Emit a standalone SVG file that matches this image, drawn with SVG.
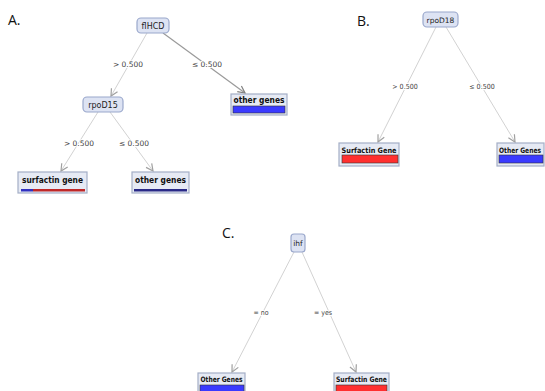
<svg xmlns="http://www.w3.org/2000/svg" width="545" height="391" viewBox="0 0 545 391">
<defs>
<marker id="arr" markerUnits="userSpaceOnUse" markerWidth="10" markerHeight="10" refX="8" refY="4" orient="auto" viewBox="0 0 10 8">
<path d="M1,0.5 L8,4 L1,7.5" fill="none" stroke="#a0a0a0" stroke-width="1.2"/>
</marker>
<marker id="arrD" markerUnits="userSpaceOnUse" markerWidth="10" markerHeight="10" refX="8" refY="4" orient="auto" viewBox="0 0 10 8">
<path d="M1,0.5 L8,4 L1,7.5" fill="none" stroke="#808080" stroke-width="1.2"/>
</marker>
</defs>
<style>
.panel{font-family:"Open Sans","Liberation Sans",sans-serif;font-size:14px;fill:#111}
.inner{fill:#dde3f3;stroke:#9aa8cc;stroke-width:1.2}
.leaf{fill:#e6eaf4;stroke:#a4aec6;stroke-width:1.2}
.nt{font-family:"DejaVu Sans",sans-serif;font-size:8px;fill:#222;text-anchor:middle}
.lt{font-family:"DejaVu Sans",sans-serif;font-size:8px;font-weight:bold;fill:#111;text-anchor:middle}
.ltc{font-family:"DejaVu Sans Condensed","DejaVu Sans",sans-serif;font-size:7.5px;font-weight:bold;fill:#111;text-anchor:middle}
.el{font-family:"DejaVu Sans",sans-serif;font-size:7.5px;fill:#444;text-anchor:middle;stroke:#fff;stroke-width:2;paint-order:stroke}
.elc{font-family:"DejaVu Sans Condensed","DejaVu Sans",sans-serif;font-size:7px;fill:#444;text-anchor:middle;stroke:#fff;stroke-width:2;paint-order:stroke}
.e{stroke:#d2d2d2;stroke-width:1;fill:none;marker-end:url(#arr)}
.ed{stroke:#9a9a9a;stroke-width:1.2;fill:none;marker-end:url(#arrD)}
.blue{fill:#3a3aff;stroke:#333;stroke-width:0.6}
.red{fill:#ff2f2f;stroke:#333;stroke-width:0.6}
</style>
<rect width="545" height="391" fill="#ffffff"/>
<text class="panel" x="8" y="25">A.</text>
<text class="panel" x="357" y="26">B.</text>
<text class="panel" x="222" y="238">C.</text>
<g id="connectors">
<line class="e" x1="147" y1="33" x2="111" y2="96"/>
<line class="ed" x1="163" y1="33" x2="245" y2="93"/>
<line class="e" x1="98" y1="112" x2="61" y2="171"/>
<line class="e" x1="110" y1="112" x2="153" y2="171"/>
<line class="e" x1="436" y1="27" x2="378" y2="142"/>
<line class="e" x1="446" y1="27" x2="515" y2="142"/>
<line class="e" x1="294" y1="252" x2="232" y2="372"/>
<line class="e" x1="302" y1="252" x2="356" y2="372"/>
<text class="el" x="128" y="67">&gt; 0.500</text>
<text class="el" x="207" y="67">≤ 0.500</text>
<text class="el" x="79" y="146">&gt; 0.500</text>
<text class="el" x="134" y="146">≤ 0.500</text>
<text class="elc" x="405" y="89">&gt; 0.500</text>
<text class="elc" x="482" y="89">≤ 0.500</text>
<text class="elc" x="261" y="315">= no</text>
<text class="elc" x="323" y="315">= yes</text>
</g>
<g id="flHCD">
<rect class="inner" x="137" y="18" width="32" height="15" rx="4"/>
<text class="nt" x="153" y="28.5">flHCD</text>
</g>
<g id="rpoD15">
<rect class="inner" x="83" y="97" width="40" height="15" rx="4"/>
<text class="nt" x="103" y="107.5">rpoD15</text>
</g>
<g id="otherGenesA1">
<rect class="leaf" x="231" y="94" width="56" height="21"/>
<text class="lt" x="259" y="103" textLength="51" lengthAdjust="spacingAndGlyphs">other genes</text>
<rect class="blue" x="233" y="106" width="52" height="7"/>
</g>
<g id="surfactinGeneA">
<rect class="leaf" x="18" y="172" width="69" height="21"/>
<text class="lt" x="52.5" y="183" textLength="61" lengthAdjust="spacingAndGlyphs">surfactin gene</text>
<rect x="21" y="189" width="12" height="2.5" fill="#3030c0"/>
<rect x="33" y="189" width="52" height="2.5" fill="#c02828"/>
</g>
<g id="otherGenesA2">
<rect class="leaf" x="132" y="172" width="57" height="21"/>
<text class="lt" x="160.5" y="183" textLength="51" lengthAdjust="spacingAndGlyphs">other genes</text>
<rect x="134" y="189" width="53" height="2.5" fill="#2a2a88"/>
</g>
<g id="rpoD18">
<rect class="inner" x="423" y="12" width="35" height="15" rx="4"/>
<text class="nt" x="440.5" y="22.5" style="font-size:7.5px">rpoD18</text>
</g>
<g id="surfactinGeneB">
<rect class="leaf" x="339" y="143" width="60" height="23"/>
<text class="ltc" x="369" y="152.5" textLength="55" lengthAdjust="spacingAndGlyphs">Surfactin Gene</text>
<rect class="red" x="342" y="155" width="56" height="8"/>
</g>
<g id="otherGenesB">
<rect class="leaf" x="497" y="143" width="47" height="23"/>
<text class="ltc" x="520" y="152.5" textLength="42" lengthAdjust="spacingAndGlyphs">Other Genes</text>
<rect class="blue" x="499" y="155" width="44" height="8"/>
</g>
<g id="ihf">
<rect class="inner" x="291" y="234" width="14" height="18" rx="3"/>
<text class="nt" x="298" y="246" style="font-size:7.5px">ihf</text>
</g>
<g id="otherGenesC">
<rect class="leaf" x="198" y="373" width="47" height="20"/>
<text class="ltc" x="221.5" y="382" textLength="42" lengthAdjust="spacingAndGlyphs">Other Genes</text>
<rect class="blue" x="200" y="385" width="44" height="8"/>
</g>
<g id="surfactinGeneC">
<rect class="leaf" x="334" y="373" width="55" height="20"/>
<text class="ltc" x="361.5" y="382" textLength="51" lengthAdjust="spacingAndGlyphs">Surfactin Gene</text>
<rect class="red" x="336" y="385" width="51" height="8"/>
</g>
</svg>
